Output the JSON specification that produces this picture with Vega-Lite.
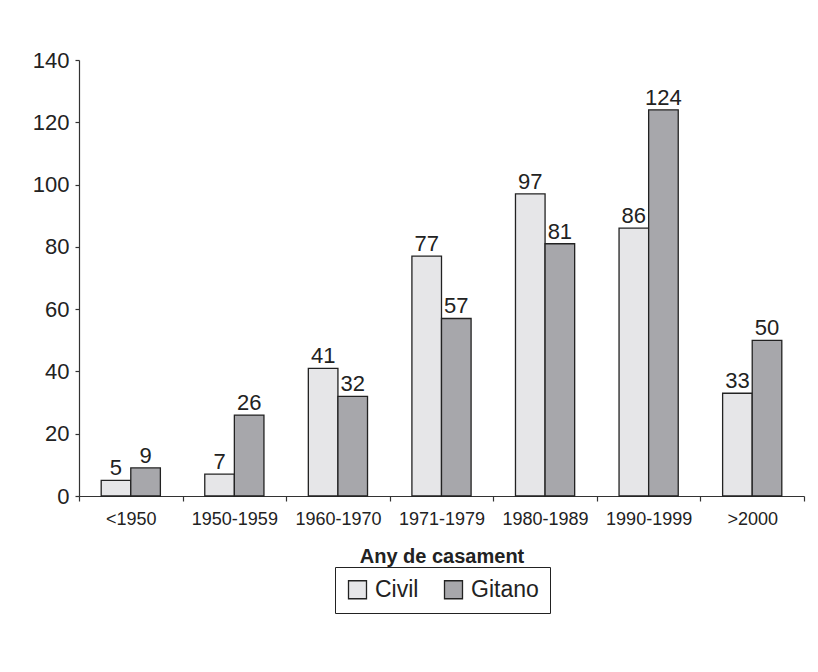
{
  "$schema": "https://vega.github.io/schema/vega-lite/v6.json",
  "autosize": "none",
  "width": 725,
  "height": 436,
  "padding": {"left": 79, "top": 60, "right": 14, "bottom": 176},
  "background": "white",
  "config": {
    "view": {"stroke": null},
    "font": "Liberation Sans",
    "axis": {"grid": false, "domainColor": "#333", "tickColor": "#333", "labelColor": "#222", "titleColor": "#222", "labelFont": "Liberation Sans", "titleFont": "Liberation Sans"}
  },
  "data": {
    "values": [
      {"periode": "<1950", "serie": "Civil", "valor": 5},
      {"periode": "<1950", "serie": "Gitano", "valor": 9},
      {"periode": "1950-1959", "serie": "Civil", "valor": 7},
      {"periode": "1950-1959", "serie": "Gitano", "valor": 26},
      {"periode": "1960-1970", "serie": "Civil", "valor": 41},
      {"periode": "1960-1970", "serie": "Gitano", "valor": 32},
      {"periode": "1971-1979", "serie": "Civil", "valor": 77},
      {"periode": "1971-1979", "serie": "Gitano", "valor": 57},
      {"periode": "1980-1989", "serie": "Civil", "valor": 97},
      {"periode": "1980-1989", "serie": "Gitano", "valor": 81},
      {"periode": "1990-1999", "serie": "Civil", "valor": 86},
      {"periode": "1990-1999", "serie": "Gitano", "valor": 124},
      {"periode": ">2000", "serie": "Civil", "valor": 33},
      {"periode": ">2000", "serie": "Gitano", "valor": 50}
    ]
  },
  "encoding": {
    "x": {
      "field": "periode", "type": "nominal", "sort": null,
      "scale": {"paddingInner": 0, "paddingOuter": 0},
      "axis": {"title": "Any de casament", "labelAngle": 0, "labelFontSize": 18, "tickBand": "extent", "tickSize": 5, "labelPadding": 9, "titleFontSize": 20, "titleFontWeight": "bold", "titlePadding": 18, "domainWidth": 1.2, "tickWidth": 1.2}
    },
    "xOffset": {"field": "serie", "type": "nominal", "scale": {"paddingOuter": 0.75, "paddingInner": 0}},
    "y": {
      "field": "valor", "type": "quantitative",
      "scale": {"domain": [0, 140], "nice": false},
      "axis": {"title": null, "values": [0, 20, 40, 60, 80, 100, 120, 140], "labelFontSize": 22, "tickSize": 4, "labelPadding": 6, "domainWidth": 1.2, "tickWidth": 1.2}
    }
  },
  "layer": [
    {
      "mark": {"type": "bar", "stroke": "#222", "strokeWidth": 1.3},
      "encoding": {
        "color": {
          "field": "serie", "type": "nominal",
          "scale": {"domain": ["Civil", "Gitano"], "range": ["#e6e6e8", "#a7a7ab"]},
          "legend": {
            "title": null, "orient": "none", "direction": "horizontal",
            "legendX": 256, "legendY": 507,
            "symbolType": "square", "symbolSize": 324, "symbolStrokeColor": "#222", "symbolStrokeWidth": 1.3,
            "labelFontSize": 23, "labelColor": "#222", "labelFont": "Liberation Sans", "labelOffset": 6,
            "strokeColor": "#222", "padding": 11, "columnPadding": 22, "symbolOffset": 0
          }
        }
      }
    },
    {
      "mark": {"type": "text", "baseline": "alphabetic", "dy": -5, "fontSize": 22, "color": "#222", "font": "Liberation Sans"},
      "encoding": {"text": {"field": "valor", "type": "quantitative"}}
    }
  ]
}
